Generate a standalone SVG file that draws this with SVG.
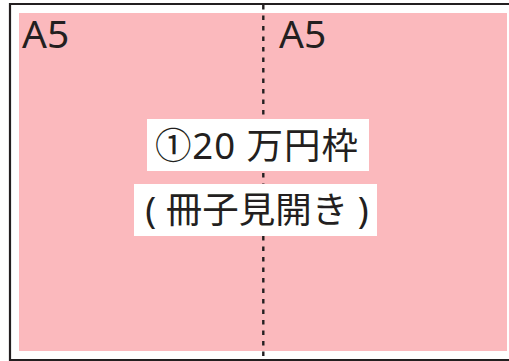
<svg xmlns="http://www.w3.org/2000/svg" width="509" height="361" viewBox="0 0 509 361">
<style>
.frame{fill:none;stroke:#231f20;stroke-width:2.2}
.label{font-family:"Noto Sans","Noto Sans CJK JP",sans-serif;fill:#231f20}
.big{font-size:36.5px}
.box{fill:#ffffff}
</style>
<rect x="0" y="0" width="509" height="361" fill="#ffffff"/>
<g id="frame">
<path class="frame" d="M10,362 V4 H510"/>
<path class="frame" d="M10,360 H510"/>
</g>
<g id="page">
<rect x="19" y="13" width="488" height="338" fill="#fbb9bd"/>
</g>
<g id="connectors">
<line x1="263.3" y1="5" x2="263.3" y2="361" stroke="#231f20" stroke-width="2.4" stroke-dasharray="4.5 6"/>
</g>
<g id="left">
<text class="label" x="22" y="48" font-size="39">A5</text>
</g>
<g id="right">
<text class="label" x="279" y="48" font-size="39">A5</text>
</g>
<g id="title">
<rect class="box" x="147" y="119" width="222" height="52"/>
<text class="label big" x="257" y="158.5" text-anchor="middle" letter-spacing="1">①20 万円枠</text>
</g>
<g id="subtitle">
<rect class="box" x="134" y="184" width="243" height="52"/>
<text class="label big" x="257" y="223" text-anchor="middle">( 冊子見開き )</text>
</g>
</svg>
